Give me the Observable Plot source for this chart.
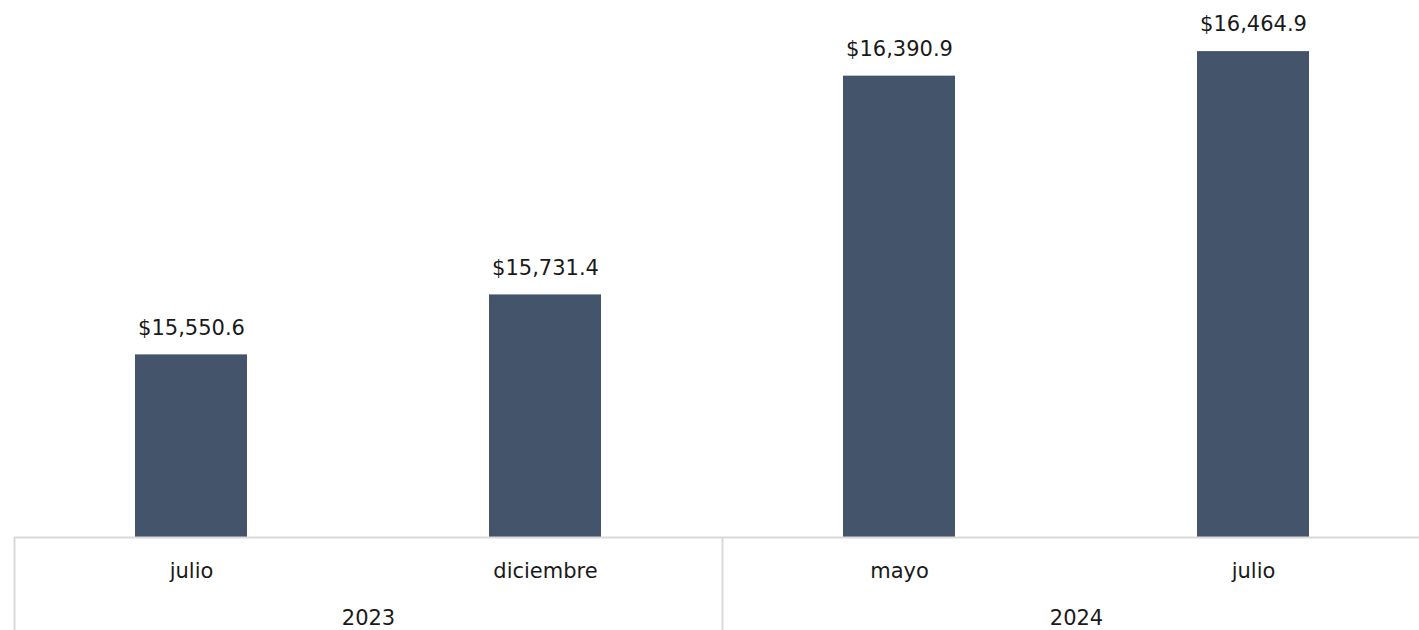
<!DOCTYPE html>
<html>
<head>
<meta charset="utf-8">
<script src="https://cdn.jsdelivr.net/npm/d3@7"></script>
<script src="https://cdn.jsdelivr.net/npm/@observablehq/plot@0.6"></script>
<style>
  html, body { margin: 0; padding: 0; background: #fff; }
  #chart svg { display: block; }
</style>
</head>
<body>
<div id="chart"></div>
<script>
const years = ["2023", "2023", "2024", "2024"];
const months = ["julio", "diciembre", "mayo", "julio"];
const values = [15550.6, 15731.4, 16390.9, 16464.9];
const yearLabels = ["2023", "2024"];

const data = values.map((v, i) => ({key: months[i] + " " + years[i], month: months[i], year: years[i], value: v}));
const keys = data.map(d => d.key);
const firstKeyOfYear = yearLabels.map(y => ({year: y, key: data.find(d => d.year === y).key}));

const W = 1419, H = 630;
const xRange = [14, 1430];
const step = (xRange[1] - xRange[0]) / keys.length;
const marginBottom = 93;
const fmt = d3.format(",.1f");
const font = "'DejaVu Sans', sans-serif";
const grid = "#d9d9d9";
const ink = "#1a1a1a";

const chart = Plot.plot({
  width: W,
  height: H,
  marginTop: 0,
  marginLeft: 14,
  marginRight: 0,
  marginBottom,
  style: {fontFamily: font, fontSize: "21px", color: ink, background: "#fff"},
  x: {domain: keys, range: xRange, paddingInner: 0.684, paddingOuter: 0.342, axis: null},
  y: {domain: [15000, 16619], axis: null},
  marks: [
    Plot.barY(data, {x: "key", y1: 15000, y2: "value", fill: "#44546a"}),
    Plot.text(data, {x: "key", y: "value", text: d => "$" + fmt(d.value), dy: -27, lineAnchor: "middle", fontSize: 21, fill: ink}),
    Plot.ruleY([15000], {stroke: grid, strokeWidth: 2}),
    Plot.ruleX(firstKeyOfYear, {x: "key", dx: -step / 2, insetTop: H - marginBottom, insetBottom: -marginBottom, stroke: grid, strokeWidth: 2}),
    Plot.text(data, {x: "key", text: "month", frameAnchor: "bottom", lineAnchor: "middle", dy: 34, fontSize: 21, fill: ink}),
    Plot.text(firstKeyOfYear, {x: "key", text: "year", frameAnchor: "bottom", lineAnchor: "middle", dx: step / 2, dy: 81, fontSize: 21, fill: ink, letterSpacing: "1px"})
  ]
});
document.getElementById("chart").appendChild(chart);
</script>
</body>
</html>
